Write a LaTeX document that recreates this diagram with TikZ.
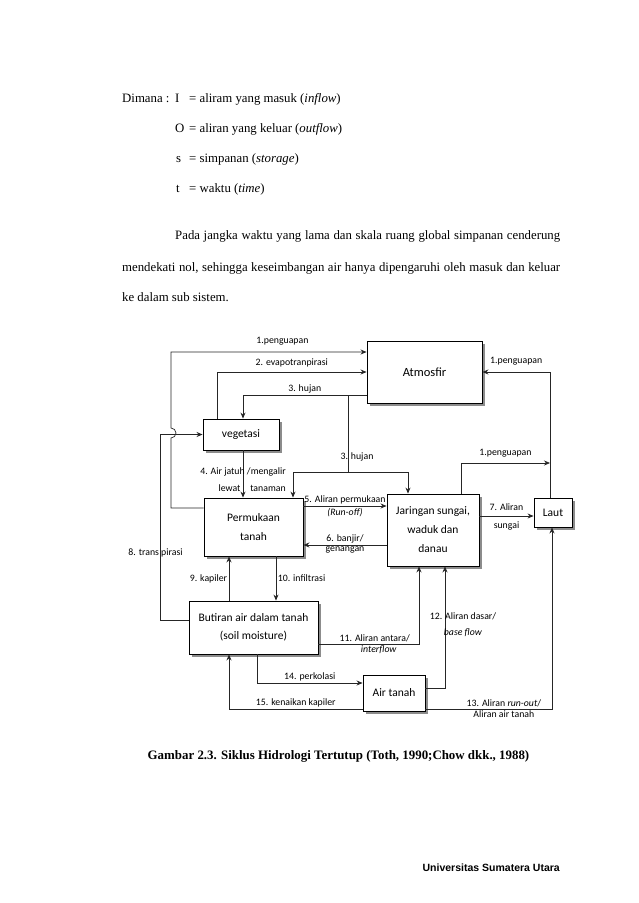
\documentclass[tikz,border=0pt]{standalone}
\usepackage{fontspec}
\setmainfont{Liberation Serif}
\newfontfamily\skemafont{Carlito}
\newfontfamily\kakifont{Liberation Sans}
\usepackage{tikz}
\usetikzlibrary{arrows.meta, positioning, shadows}
\tikzstyle{kotak} = [rectangle, draw=black, line width=0.9pt, fill=white, align=center, inner sep=0pt, font=\skemafont\fontsize{11.5}{19}\selectfont, drop shadow={shadow xshift=3pt, shadow yshift=-3pt, fill=black!45, opacity=1}]
\tikzstyle{panah} = [line width=0.7pt, draw=black!85, -{Stealth[length=6pt, width=5pt]}]
\tikzstyle{garis} = [line width=0.7pt, draw=black!85]
\tikzstyle{ket} = [font=\skemafont\fontsize{9.8}{16}\selectfont, inner sep=1.5pt, align=center]
\tikzstyle{teks} = [anchor=base west, inner sep=0pt, font=\fontsize{12.8}{15}\selectfont]

\begin{document}
\begin{tikzpicture}[x=1pt, y=-1pt]
\useasboundingbox (0,0) rectangle (638,903);

\node[teks] (dimana) at (122,102) {Dimana :};
\node[teks] (simI) at (175,102) {I};
\node[teks] (artiI) at (189,102) {= aliram yang masuk (\textit{inflow})};
\node[teks] (simO) at (175,132) {O};
\node[teks] (artiO) at (189,132) {= aliran yang keluar (\textit{outflow})};
\node[teks] (sims) at (176,162) {s};
\node[teks] (artis) at (189,162) {= simpanan (\textit{storage})};
\node[teks] (simt) at (176,192) {t};
\node[teks] (artit) at (189,192) {= waktu (\textit{time})};
\node[teks] (par1) at (175,239) {\makebox[385pt][s]{Pada jangka waktu yang lama dan skala ruang global simpanan cenderung}};
\node[teks] (par2) at (122,271) {\makebox[438pt][s]{mendekati nol, sehingga keseimbangan air hanya dipengaruhi oleh masuk dan keluar}};
\node[teks] (par3) at (122,301) {ke dalam sub sistem.};

\node[kotak, minimum width=115pt, minimum height=62pt, font=\skemafont\fontsize{12.5}{15}\selectfont] (atm) at (424.5,372) {Atmosfir};
\node[kotak, minimum width=76pt, minimum height=31pt] (veg) at (241,434.5) {vegetasi};
\node[kotak, minimum width=99pt, minimum height=58pt] (perm) at (253.5,527) {Permukaan\\tanah};
\node[kotak, minimum width=92pt, minimum height=72pt] (jar) at (433,530) {Jaringan sungai,\\waduk dan\\danau};
\node[kotak, minimum width=38pt, minimum height=29pt] (laut) at (553,512.5) {Laut};
\node[kotak, minimum width=129pt, minimum height=53pt, font=\skemafont\fontsize{11.5}{18}\selectfont] (but) at (253.5,627.5) {Butiran air dalam tanah\\(soil moisture)};
\node[kotak, minimum width=62pt, minimum height=36pt] (air) at (394,693) {Air tanah};

\coordinate (lompat) at (171,438);
\coordinate (jalur1) at (171,352);
\coordinate (transp) at (160,434.5);
\coordinate (hujanatas) at (348,395);
\coordinate (hujan) at (348,472);
\coordinate (uaplaut) at (550,463);

\draw[panah] ([yshift=19pt]perm.west) -| (lompat) arc (-90:90:5pt) -- (jalur1) -- node[ket, above=5pt, pos=0.57] (k1a) {1.penguapan} (jalur1 -| atm.west);
\draw[panah] ([xshift=-24pt]veg.north) |- node[ket, above=3pt, pos=0.75] (k2) {2. evapotranpirasi} (atm.west);
\draw[panah] ([yshift=-23pt]atm.west) -| node[ket, above, pos=0.25] (k3a) {3. hujan} ([xshift=2pt]veg.north);
\draw[garis] (hujanatas) -- node[ket, pos=0.8, xshift=9pt] (k3b) {3. hujan} (hujan);
\draw[panah] (hujan) -| ([xshift=39.5pt]perm.north);
\draw[panah] (hujan) -| ([xshift=-25pt]jar.north);
\draw[panah] ([xshift=2pt]veg.south) -- node[ket, align=right, pos=0.63, font=\skemafont\fontsize{9.8}{17}\selectfont] (k4) {4. Air jatuh /mengalir\\lewat\quad tanaman} ([xshift=-10.5pt]perm.north);
\draw[panah] ([yshift=21pt]perm.east) -- node[ket, above] (k5a) {5. Aliran permukaan} node[ket, below] (k5b) {\textit{(Run-off)}} ([yshift=21pt]perm.east -| jar.west);
\draw[panah] ([yshift=-15pt]jar.west) -- node[ket, above] (k6a) {6. banjir/} node[ket, below] (k6b) {genangan} ([yshift=-15pt]jar.west -| perm.east);
\draw[panah] ([yshift=14pt]jar.east) -- node[ket, above=4pt] (k7a) {7. Aliran} node[ket, below=4pt] (k7b) {sungai} ([yshift=14pt]jar.east -| laut.west);
\draw[panah] ([xshift=-3pt]laut.north) |- node[ket, above=5pt, pos=0.75] (k1b) {1.penguapan} (atm.east);
\draw[panah] ([xshift=28pt]jar.north) |- node[ket, above=4pt, pos=0.75] (k1c) {1.penguapan} (uaplaut);
\draw[panah] ([yshift=7.5pt]but.west) -| node[ket, pos=0.68, xshift=-4.5pt] (k8) {8. trans pirasi} (transp) -- (veg.west);
\draw[panah] ([xshift=-24.5pt]but.north) -- node[ket, left] (k9) {9. kapiler} ([xshift=-24.5pt]but.north |- perm.south);
\draw[panah] ([xshift=22.5pt]perm.south) -- node[ket, right] (k10) {10. infiltrasi} ([xshift=22.5pt]perm.south |- but.north);
\draw[panah] ([yshift=-16.5pt]but.east) -| node[ket, above, pos=0.28] (k11a) {11. Aliran antara/} node[ket, below, pos=0.3] (k11b) {\textit{interflow}} ([xshift=-14pt]jar.south);
\draw[panah] ([yshift=5pt]air.east) -| node[ket, pos=0.76, xshift=18pt] (k12) {12. Aliran dasar/\\\textit{base flow}} ([xshift=12pt]jar.south);
\draw[panah] ([yshift=-16pt]air.east) -| node[ket, above, pos=0.31] (k13a) {13. Aliran \textit{run-out}/} node[ket, below, pos=0.31] (k13b) {Aliran air tanah} ([xshift=-1pt]laut.south);
\draw[panah] ([xshift=3.5pt]but.south) |- node[ket, above, pos=0.75] (k14) {14. perkolasi} ([yshift=10pt]air.west);
\draw[panah] ([yshift=-16pt]air.west) -| node[ket, above, pos=0.25] (k15) {15. kenaikan kapiler} ([xshift=-24.5pt]but.south);

\node[font=\bfseries\fontsize{12.9}{15}\selectfont, inner sep=0pt] (judul) at (338.5,756) {Gambar 2.3. Siklus Hidrologi Tertutup (Toth, 1990;Chow dkk., 1988)};
\node[font=\kakifont\bfseries\fontsize{10.5}{12}\selectfont, inner sep=0pt, anchor=east] (univ) at (560,868) {Universitas Sumatera Utara};
\end{tikzpicture}
\end{document}
